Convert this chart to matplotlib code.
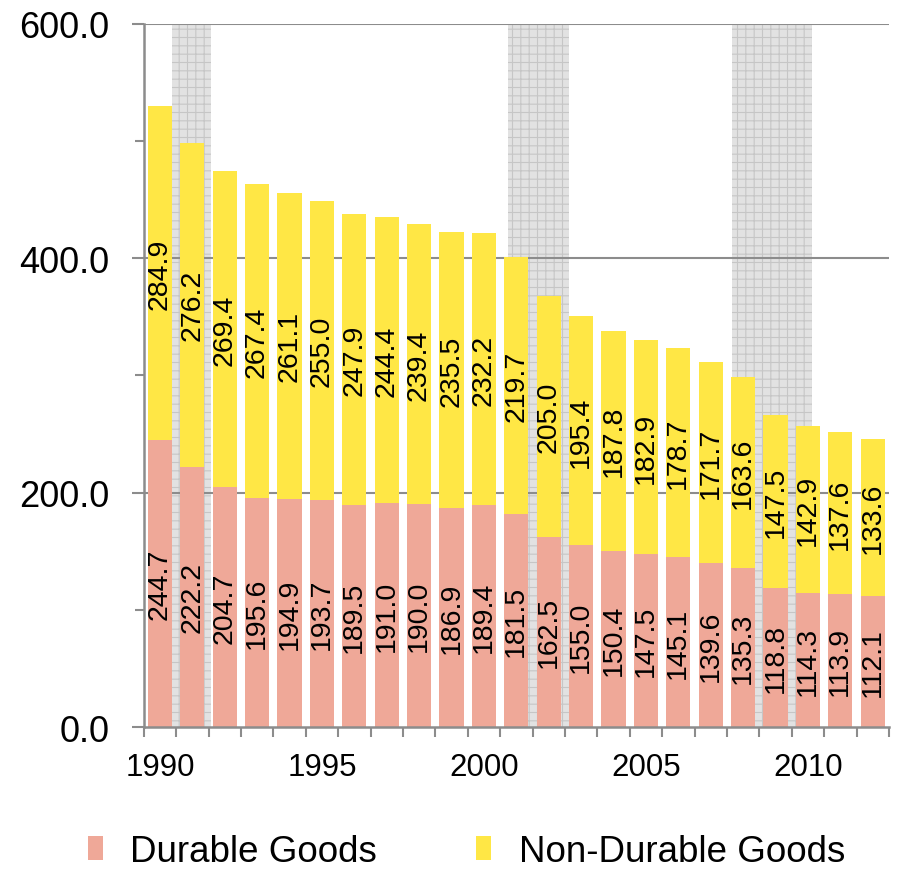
import matplotlib
matplotlib.use("Agg")
import matplotlib.pyplot as plt
import numpy as np

years = list(range(1990, 2013))
durable = [244.7, 222.2, 204.7, 195.6, 194.9, 193.7, 189.5, 191.0, 190.0, 186.9, 189.4,
           181.5, 162.5, 155.0, 150.4, 147.5, 145.1, 139.6, 135.3, 118.8, 114.3, 113.9, 112.1]
nondurable = [284.9, 276.2, 269.4, 267.4, 261.1, 255.0, 247.9, 244.4, 239.4, 235.5, 232.2,
              219.7, 205.0, 195.4, 187.8, 182.9, 178.7, 171.7, 163.6, 147.5, 142.9, 137.6, 133.6]
# recession shading spans (in bar-index units)
recessions = [(0.38, 1.57), (10.74, 12.63), (17.66, 20.13)]
xtick_years = [1990, 1995, 2000, 2005, 2010]
yticks = [0, 200, 400, 600]

plt.rcParams['font.family'] = ['Liberation Sans', 'DejaVu Sans']
plt.rcParams['hatch.linewidth'] = 0.8

col_dur = '#EFA898'
col_non = '#FFE745'
gray = '#8c8c8c'

fig = plt.figure(figsize=(8.97, 8.70), dpi=100)
ax = fig.add_axes([0.1602, 0.1632, 0.991 - 0.1602, 0.9713 - 0.1632])

x = np.arange(len(years))
ax.set_xlim(-0.5, len(years) - 0.5)
ax.set_ylim(0, 600)

for a, b in recessions:
    ax.axvspan(a, b, ymin=0, ymax=1, facecolor='#e2e2e2', edgecolor='#c6c6c6',
               hatch='++', linewidth=0, zorder=0)

for yv in [200, 400, 600]:
    ax.axhline(yv, color=gray, linewidth=1.5, zorder=1)

w = 0.75
ax.bar(x, durable, width=w, color=col_dur, zorder=2, label='Durable Goods')
ax.bar(x, nondurable, width=w, bottom=durable, color=col_non, zorder=2,
       label='Non-Durable Goods')

for i in range(len(years)):
    ax.text(x[i], durable[i] / 2, f'{durable[i]:.1f}', rotation=90, ha='center',
            va='center', fontsize=20.5, zorder=3)
    ax.text(x[i], durable[i] + nondurable[i] / 2, f'{nondurable[i]:.1f}', rotation=90,
            ha='center', va='center', fontsize=20.5, zorder=3)

for s in ['top', 'right']:
    ax.spines[s].set_visible(False)
for s in ['left', 'bottom']:
    ax.spines[s].set_color(gray)
    ax.spines[s].set_linewidth(1.8)
    ax.spines[s].set_zorder(4)

ax.set_yticks(yticks)
ax.set_yticklabels([f'{v:.1f}' for v in yticks], fontsize=26)
ax.set_yticks([100, 300, 500], minor=True)
ax.tick_params(axis='y', which='major', length=8.5, width=1.5, color=gray, pad=16)
ax.tick_params(axis='y', which='minor', length=6.5, width=1.5, color=gray)

ax.set_xticks([years.index(y) for y in xtick_years])
ax.set_xticklabels([str(y) for y in xtick_years], fontsize=22.5)
ax.set_xticks(np.arange(-0.5, len(years), 1), minor=True)
ax.tick_params(axis='x', which='major', length=0, pad=18)
ax.tick_params(axis='x', which='minor', length=7, width=1.5, color=gray)

fig.legend(loc='center', bbox_to_anchor=(0.52, 0.02), ncol=2, frameon=False,
           fontsize=26.5, handlelength=0.4, handleheight=0.65, handletextpad=0.75,
           columnspacing=2.7)

fig.savefig('out.png', dpi=100)
